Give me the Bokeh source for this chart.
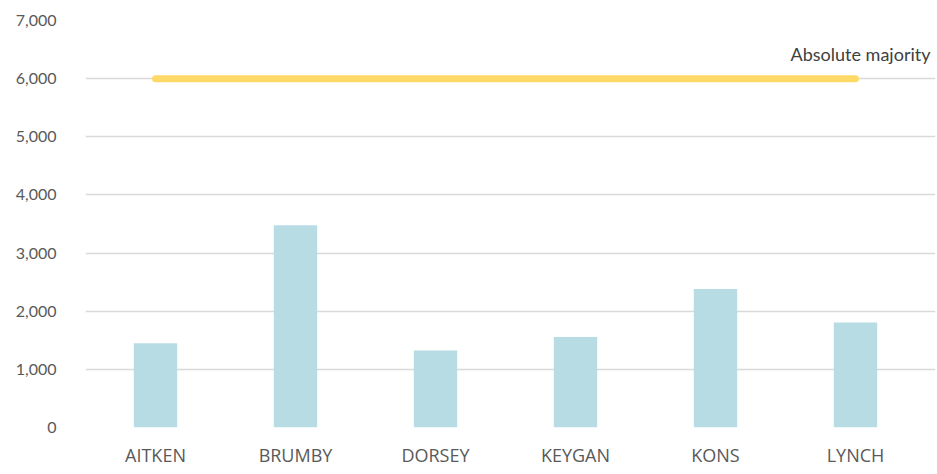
from bokeh.plotting import figure
from bokeh.models import Range1d, FixedTicker, NumeralTickFormatter, Label
from bokeh.embed import file_html
from bokeh.resources import INLINE

candidates = ["AITKEN", "BRUMBY", "DORSEY", "KEYGAN", "KONS", "LYNCH"]
votes = [1450, 3480, 1325, 1555, 2380, 1805]
majority = 6000
majority_label = "Absolute majority"
y_ticks = [0, 1000, 2000, 3000, 4000, 5000, 6000, 7000]

n = len(candidates)
xs = [i + 0.5 for i in range(n)]

p = figure(x_range=Range1d(0, n + 10 / 140),
           y_range=Range1d(0, 7000),
           width=936, height=470, output_backend="svg", toolbar_location=None,
           min_border_left=85, min_border_right=1, min_border_top=20, min_border_bottom=43)

p.vbar(x=xs, top=votes, width=0.31, fill_color="#B8DCE4", line_color=None)
p.line(x=[xs[0], xs[-1]], y=[majority, majority],
       line_color="#FFD966", line_width=7, line_cap="round")

lab = Label(x=xs[-1], y=majority, x_offset=75, y_offset=25, text=majority_label,
            text_align="right", text_baseline="alphabetic",
            text_font="Lato", text_font_size="18px", text_color="#404040")
p.add_layout(lab)

p.outline_line_color = None
p.xgrid.grid_line_color = None
p.ygrid.grid_line_color = "#D9D9D9"
p.ygrid.grid_line_width = 1.5
p.ygrid.bounds = (0, n)
p.yaxis.ticker = FixedTicker(ticks=y_ticks)
p.yaxis.formatter = NumeralTickFormatter(format="0,0")
p.xaxis.ticker = FixedTicker(ticks=xs)
p.xaxis.major_label_overrides = {x: c for x, c in zip(xs, candidates)}
for ax in (p.xaxis[0], p.yaxis[0]):
    ax.axis_line_color = None
    ax.major_tick_line_color = None
    ax.minor_tick_line_color = None
    ax.major_tick_out = 0
    ax.major_tick_in = 0
    ax.minor_tick_out = 0
    ax.minor_tick_in = 0
    ax.major_label_text_color = "#595959"
p.yaxis.major_label_text_font = "Lato"
p.yaxis.major_label_text_font_size = "16px"
p.yaxis.major_label_standoff = 29
p.xaxis.major_label_text_font = "Open Sans"
p.xaxis.major_label_text_font_size = "18px"
p.xaxis.major_label_standoff = 15

open("out.html", "w").write(file_html(p, INLINE))
